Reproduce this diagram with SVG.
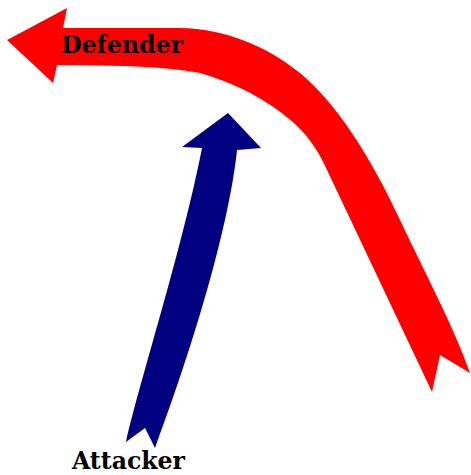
<svg xmlns="http://www.w3.org/2000/svg" width="471" height="475" viewBox="0 0 471 475">
  <style>
    .label { font-family: "DejaVu Serif", "Liberation Serif", serif; font-weight: bold; fill: #000000; font-size: 24px; }
    .defender { fill: #ff0000; }
    .attacker { fill: #000080; }
  </style>
  <rect width="471" height="475" fill="#ffffff"/>
  <g id="connectors">
    <!-- Defender: sweeping arrow curving from lower right to the left -->
    <path id="defender-arrow" class="defender" d="M7,40 L67,8 L63,28 L180,28 C225,29 265,45 300,73 C335,102 370,155 400,220 C430,283 455,330 470,373 L440,355 L432,392 L327,170 C320,155 312,140 295,124 C275,106 245,86 200,73 C170,67 120,65 57,65 L53,83 Z"/>
    <!-- Attacker: upward arrow -->
    <path id="attacker-arrow" class="attacker" d="M228,113 L261,148 L237,150 C232,200 210,300 155,448 L145,428 L126,442 C140,380 182,250 202,148 L182,147 Z"/>
  </g>
  <g id="defender">
    <text class="label" x="61" y="53" textLength="122" lengthAdjust="spacingAndGlyphs">Defender</text>
  </g>
  <g id="attacker">
    <text class="label" x="72" y="469" textLength="113" lengthAdjust="spacingAndGlyphs">Attacker</text>
  </g>
</svg>
